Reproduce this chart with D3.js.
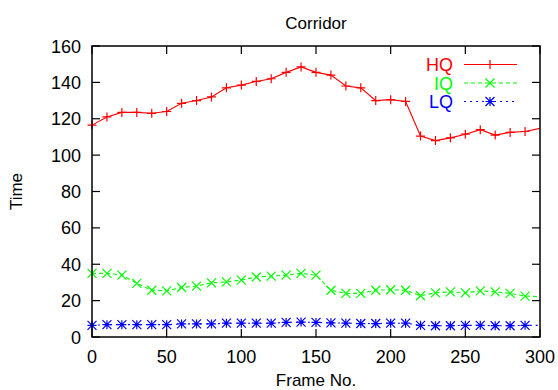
<!DOCTYPE html>
<html>
<head>
<meta charset="utf-8">
<script src="https://cdn.jsdelivr.net/npm/d3@7.9.0/dist/d3.min.js"></script>
<style>
  body { margin: 0; background: #fff; }
  text { font-family: "Liberation Sans", Arial, sans-serif; }
</style>
</head>
<body>
<svg id="chart" width="558" height="390"></svg>
<script>
// frame numbers and timings
const frames = [0, 10, 20, 30, 40, 50, 60, 70, 80, 90, 100, 110, 120, 130, 140, 150,
  160, 170, 180, 190, 200, 210, 220, 230, 240, 250, 260, 270, 280, 290, 300];
const hq = [116.5, 121, 123.5, 123.5, 123, 124, 128.5, 130, 132, 137, 138.5, 140.5, 142, 145.5, 148.5, 145.5,
  144, 138, 137, 130, 130.5, 129.5, 110.5, 108, 109.5, 111.5, 114, 111, 112.5, 113, 114.7];
const iq = [35, 35, 34, 29.5, 25.7, 25.4, 27.2, 28, 29.8, 30.3, 31.3, 33, 33.5, 34, 35, 34,
  25.7, 24, 24, 25.7, 26, 25.7, 22.7, 24.3, 24.8, 24.3, 25.4, 24.8, 24, 22.5, 22.2];
const lq = [6.4, 6.8, 6.8, 6.8, 6.8, 6.8, 7.2, 7.2, 7.2, 7.6, 7.6, 7.6, 7.6, 8, 8.2, 8,
  7.8, 7.6, 7.4, 7.4, 7.6, 7.6, 6.4, 6.2, 6.2, 6.4, 6.4, 6.2, 6.2, 6.4, 6.4];
const xTicks = [0, 50, 100, 150, 200, 250, 300];
const yTicks = [0, 20, 40, 60, 80, 100, 120, 140, 160];

const series = [
  { name: 'HQ', values: hq, color: '#ff0000', dash: null, marker: 'plus' },
  { name: 'IQ', values: iq, color: '#00ff00', dash: '4,3', marker: 'cross' },
  { name: 'LQ', values: lq, color: '#0000ff', dash: '2,4', marker: 'star' },
];

const margin = { left: 92, right: 18, top: 46, bottom: 53 };
const width = 558 - margin.left - margin.right;
const height = 390 - margin.top - margin.bottom;

const svg = d3.select('#chart');
const g = svg.append('g').attr('transform', `translate(${margin.left},${margin.top})`);

const x = d3.scaleLinear().domain([0, 300]).range([0, width]);
const y = d3.scaleLinear().domain([0, 160]).range([height, 0]);

// ticks on all four sides, pointing inward
const tickLen = 8;
g.append('g').selectAll('line').data(xTicks).join('line')
  .attr('x1', d => x(d)).attr('x2', d => x(d))
  .attr('y1', height).attr('y2', height - tickLen);
g.append('g').selectAll('line').data(xTicks).join('line')
  .attr('x1', d => x(d)).attr('x2', d => x(d))
  .attr('y1', 0).attr('y2', tickLen);
g.append('g').selectAll('line').data(yTicks).join('line')
  .attr('x1', 0).attr('x2', tickLen)
  .attr('y1', d => y(d)).attr('y2', d => y(d));
g.append('g').selectAll('line').data(yTicks).join('line')
  .attr('x1', width).attr('x2', width - tickLen)
  .attr('y1', d => y(d)).attr('y2', d => y(d));
g.selectAll('line').attr('stroke', '#000').attr('stroke-width', 1.2);

g.append('g').selectAll('text').data(xTicks).join('text')
  .attr('x', d => x(d)).attr('y', height + 26)
  .attr('text-anchor', 'middle').attr('font-size', 18).text(d => d);
g.append('g').selectAll('text').data(yTicks).join('text')
  .attr('x', -11).attr('y', d => y(d) + 6.5)
  .attr('text-anchor', 'end').attr('font-size', 18).text(d => d);

// labels
svg.append('text').attr('x', margin.left + width / 2).attr('y', 29)
  .attr('text-anchor', 'middle').attr('font-size', 17).text('Corridor');
svg.append('text').attr('x', margin.left + width / 2).attr('y', 386)
  .attr('text-anchor', 'middle').attr('font-size', 17).text('Frame No.');
svg.append('text').attr('transform', `translate(22,${margin.top + height / 2}) rotate(-90)`)
  .attr('text-anchor', 'middle').attr('font-size', 17).text('Time');

svg.append('defs').append('clipPath').attr('id', 'clip')
  .append('rect').attr('x', -10).attr('y', -10).attr('width', width + 10).attr('height', height + 20);

function drawMarker(sel, type, color) {
  const s = 4.5;
  let p = '';
  if (type === 'plus' || type === 'star') p += `M${-s},0H${s}M0,${-s}V${s}`;
  if (type === 'cross' || type === 'star') p += `M${-s},${-s}L${s},${s}M${-s},${s}L${s},${-s}`;
  sel.append('path').attr('d', p).attr('stroke', color).attr('stroke-width', 1.2).attr('fill', 'none');
}

const line = d3.line().x(d => x(d[0])).y(d => y(d[1]));
const plot = g.append('g').attr('clip-path', 'url(#clip)');

series.forEach(s => {
  const pts = frames.map((f, i) => [f, s.values[i]]);
  plot.append('path').datum(pts)
    .attr('d', line).attr('fill', 'none')
    .attr('stroke', s.color).attr('stroke-width', 1.1)
    .attr('stroke-dasharray', s.dash);
  pts.filter(d => d[0] < 300).forEach(d => {
    const m = plot.append('g').attr('transform', `translate(${x(d[0])},${y(d[1])})`);
    drawMarker(m, s.marker, s.color);
  });
});

// legend
const legend = g.append('g');
series.forEach((s, i) => {
  const ly = 18.5 + i * 18.5;
  legend.append('text').attr('x', 361).attr('y', ly + 6.5)
    .attr('text-anchor', 'end').attr('font-size', 18).attr('fill', s.color).text(s.name);
  legend.append('line').attr('x1', 372).attr('x2', 425).attr('y1', ly).attr('y2', ly)
    .attr('stroke', s.color).attr('stroke-width', 1.1).attr('stroke-dasharray', s.dash);
  const m = legend.append('g').attr('transform', `translate(398,${ly})`);
  drawMarker(m, s.marker, s.color);
});

// frame
g.append('rect').attr('width', width).attr('height', height)
  .attr('fill', 'none').attr('stroke', '#000').attr('stroke-width', 1.5);
</script>
</body>
</html>
